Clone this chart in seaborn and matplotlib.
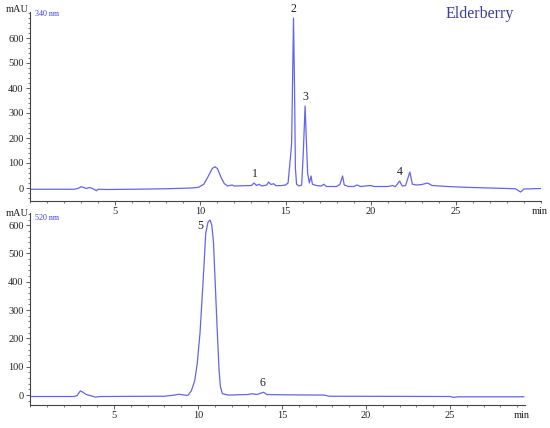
import matplotlib
matplotlib.use("Agg")
import matplotlib.pyplot as plt
from matplotlib.ticker import MultipleLocator
import seaborn as sns
import pandas as pd

# --- DATA ---
top_time = [0.0, 2.6, 2.8, 3.0, 3.15, 3.3, 3.5, 3.7, 3.9, 4.0, 4.5, 6.0, 8.0, 9.0,
            9.5, 9.9, 10.2, 10.45, 10.7, 10.85, 11.0, 11.2, 11.4, 11.6, 11.85, 12.0,
            12.5, 13.0, 13.15, 13.3, 13.45, 13.6, 13.9, 14.0, 14.15, 14.3, 14.45,
            14.8, 15.0, 15.15, 15.3, 15.36, 15.42, 15.47, 15.53, 15.58, 15.65, 15.8,
            15.95, 16.05, 16.15, 16.22, 16.3, 16.4, 16.5, 16.58, 16.8, 17.1, 17.25,
            17.4, 18.0, 18.2, 18.35, 18.45, 18.7, 19.0, 19.2, 19.4, 20.0, 20.2, 21.0,
            21.3, 21.45, 21.7, 21.85, 22.05, 22.3, 22.45, 22.7, 23.0, 23.35, 23.6,
            24.5, 25.5, 27.0, 28.5, 28.8, 29.0, 30.0]
top_mau = [-5, -5, -2, 5, 2, -2, 2, -3, -11, -5, -6, -5, -3, -1,
           0, 3, 15, 45, 78, 85, 78, 45, 18, 8, 12, 8,
           9, 10, 20, 10, 15, 8, 12, 24, 14, 17, 9,
           10, 12, 20, 130, 180, 450, 680, 400, 80, 15, 8,
           12, 150, 328, 200, 60, 20, 48, 15, 10, 8, 15,
           6, 6, 15, 48, 12, 6, 6, 12, 6, 10, 6, 6,
           10, 5, 28, 8, 10, 64, 15, 12, 14, 20, 10,
           6, 3, 0, -3, -16, -4, -2]

bottom_time = [0.0, 2.6, 2.8, 3.0, 3.15, 3.35, 3.6, 3.9, 4.2, 8.0, 8.6, 8.85, 9.2,
               9.4, 9.6, 9.8, 9.95, 10.12, 10.3, 10.46, 10.6, 10.72, 10.82, 10.92,
               11.02, 11.15, 11.25, 11.33, 11.45, 11.8, 13.0, 13.2, 13.5, 13.9, 14.1,
               15.0, 17.5, 17.8, 25.0, 25.2, 25.5, 29.4]
bottom_mau = [-5, -5, -2, 15, 10, 2, -2, -7, -5, -4, 0, 3, 0,
              -1, 15, 50, 110, 220, 400, 572, 612, 618, 600, 540,
              400, 219, 90, 30, 5, 0, 2, 5, 2, 10, 2,
              1, 0, -4, -5, -8, -6, -6]

top_labels = ["1", "2", "3", "4"]
top_label_time = [13.2, 15.47, 16.15, 21.7]
top_label_mau = [20, 680, 328, 28]

bottom_labels = ["5", "6"]
bottom_label_time = [10.72, 13.9]
bottom_label_mau = [618, 10]

df_top = pd.DataFrame({"time": top_time, "mAU": top_mau})
df_bottom = pd.DataFrame({"time": bottom_time, "mAU": bottom_mau})

# --- STYLE ---
sns.set_theme(style="ticks")
plt.rcParams["font.family"] = ["Liberation Serif", "DejaVu Serif"]

line_color = "#6464ec"
text_dark = "#222222"
spine_color = "#444444"

fig = plt.figure(figsize=(5.5, 4.28), dpi=100)
ax1 = fig.add_axes([30 / 550, 1 - 201 / 428, 511 / 550, 189 / 428])
ax2 = fig.add_axes([30 / 550, 1 - 405 / 428, 495 / 550, 192 / 428])

sns.lineplot(data=df_top, x="time", y="mAU", ax=ax1, color=line_color,
             linewidth=0.9, sort=False)
sns.lineplot(data=df_bottom, x="time", y="mAU", ax=ax2, color=line_color,
             linewidth=0.9, sort=False)

ax1.set_xlim(0, 30)
ax1.set_ylim(-52, 704)
ax2.set_xlim(0, 29.46)
ax2.set_ylim(-35, 643)

for ax in (ax1, ax2):
    ax.set_xlabel("")
    ax.set_ylabel("")
    ax.xaxis.set_major_locator(MultipleLocator(5))
    ax.xaxis.set_minor_locator(MultipleLocator(1))
    ax.yaxis.set_major_locator(MultipleLocator(100))
    ax.yaxis.set_minor_locator(MultipleLocator(20))
    ax.set_xticks([5, 10, 15, 20, 25])
    ax.set_yticks([0, 100, 200, 300, 400, 500, 600])
    for side in ("top", "right"):
        ax.spines[side].set_visible(False)
    for side in ("left", "bottom"):
        ax.spines[side].set_color(spine_color)
        ax.spines[side].set_linewidth(0.8)
    ax.tick_params(which="major", direction="out", length=3, width=0.6,
                   color=spine_color, labelsize=7.5, pad=1.5, labelcolor=text_dark)
    ax.tick_params(which="minor", direction="out", length=1.6, width=0.5,
                   color=spine_color)
    ax.patch.set_alpha(0)

# peak numbers
for lab, t, v in zip(top_labels, top_label_time, top_label_mau):
    ax1.annotate(lab, xy=(t, v), xytext=(0, 2), textcoords="offset points",
                 ha="center", va="bottom", fontsize=8.5, color=text_dark)
ax2.annotate(bottom_labels[0], xy=(bottom_label_time[0], bottom_label_mau[0]),
             xytext=(-7, -4), textcoords="offset points",
             ha="center", va="center", fontsize=8.5, color=text_dark)
ax2.annotate(bottom_labels[1], xy=(bottom_label_time[1], bottom_label_mau[1]),
             xytext=(-0.5, 2), textcoords="offset points",
             ha="center", va="bottom", fontsize=8.5, color=text_dark)

# axis captions
fig.text(29 / 550, 1 - 9 / 428, "mAU", ha="right", va="center", fontsize=7.5,
         color=text_dark)
fig.text(29 / 550, 1 - 214 / 428, "mAU", ha="right", va="center", fontsize=7.5,
         color=text_dark)
fig.text(35 / 550, 1 - 14 / 428, "340 nm", ha="left", va="center", fontsize=5.8,
         color="#3a3ae0")
fig.text(35 / 550, 1 - 218 / 428, "520 nm", ha="left", va="center", fontsize=5.8,
         color="#3a3ae0")
fig.text(532 / 550, 1 - 211 / 428, "min", ha="left", va="center", fontsize=7.5,
         color=text_dark)
fig.text(514 / 550, 1 - 415 / 428, "min", ha="left", va="center", fontsize=7.5,
         color=text_dark)
fig.text(480 / 550, 1 - 14 / 428, "Elderberry", ha="center", va="center",
         fontsize=11.5, color="#3d3d9a")

fig.savefig("out.png", dpi=100, facecolor="white")
